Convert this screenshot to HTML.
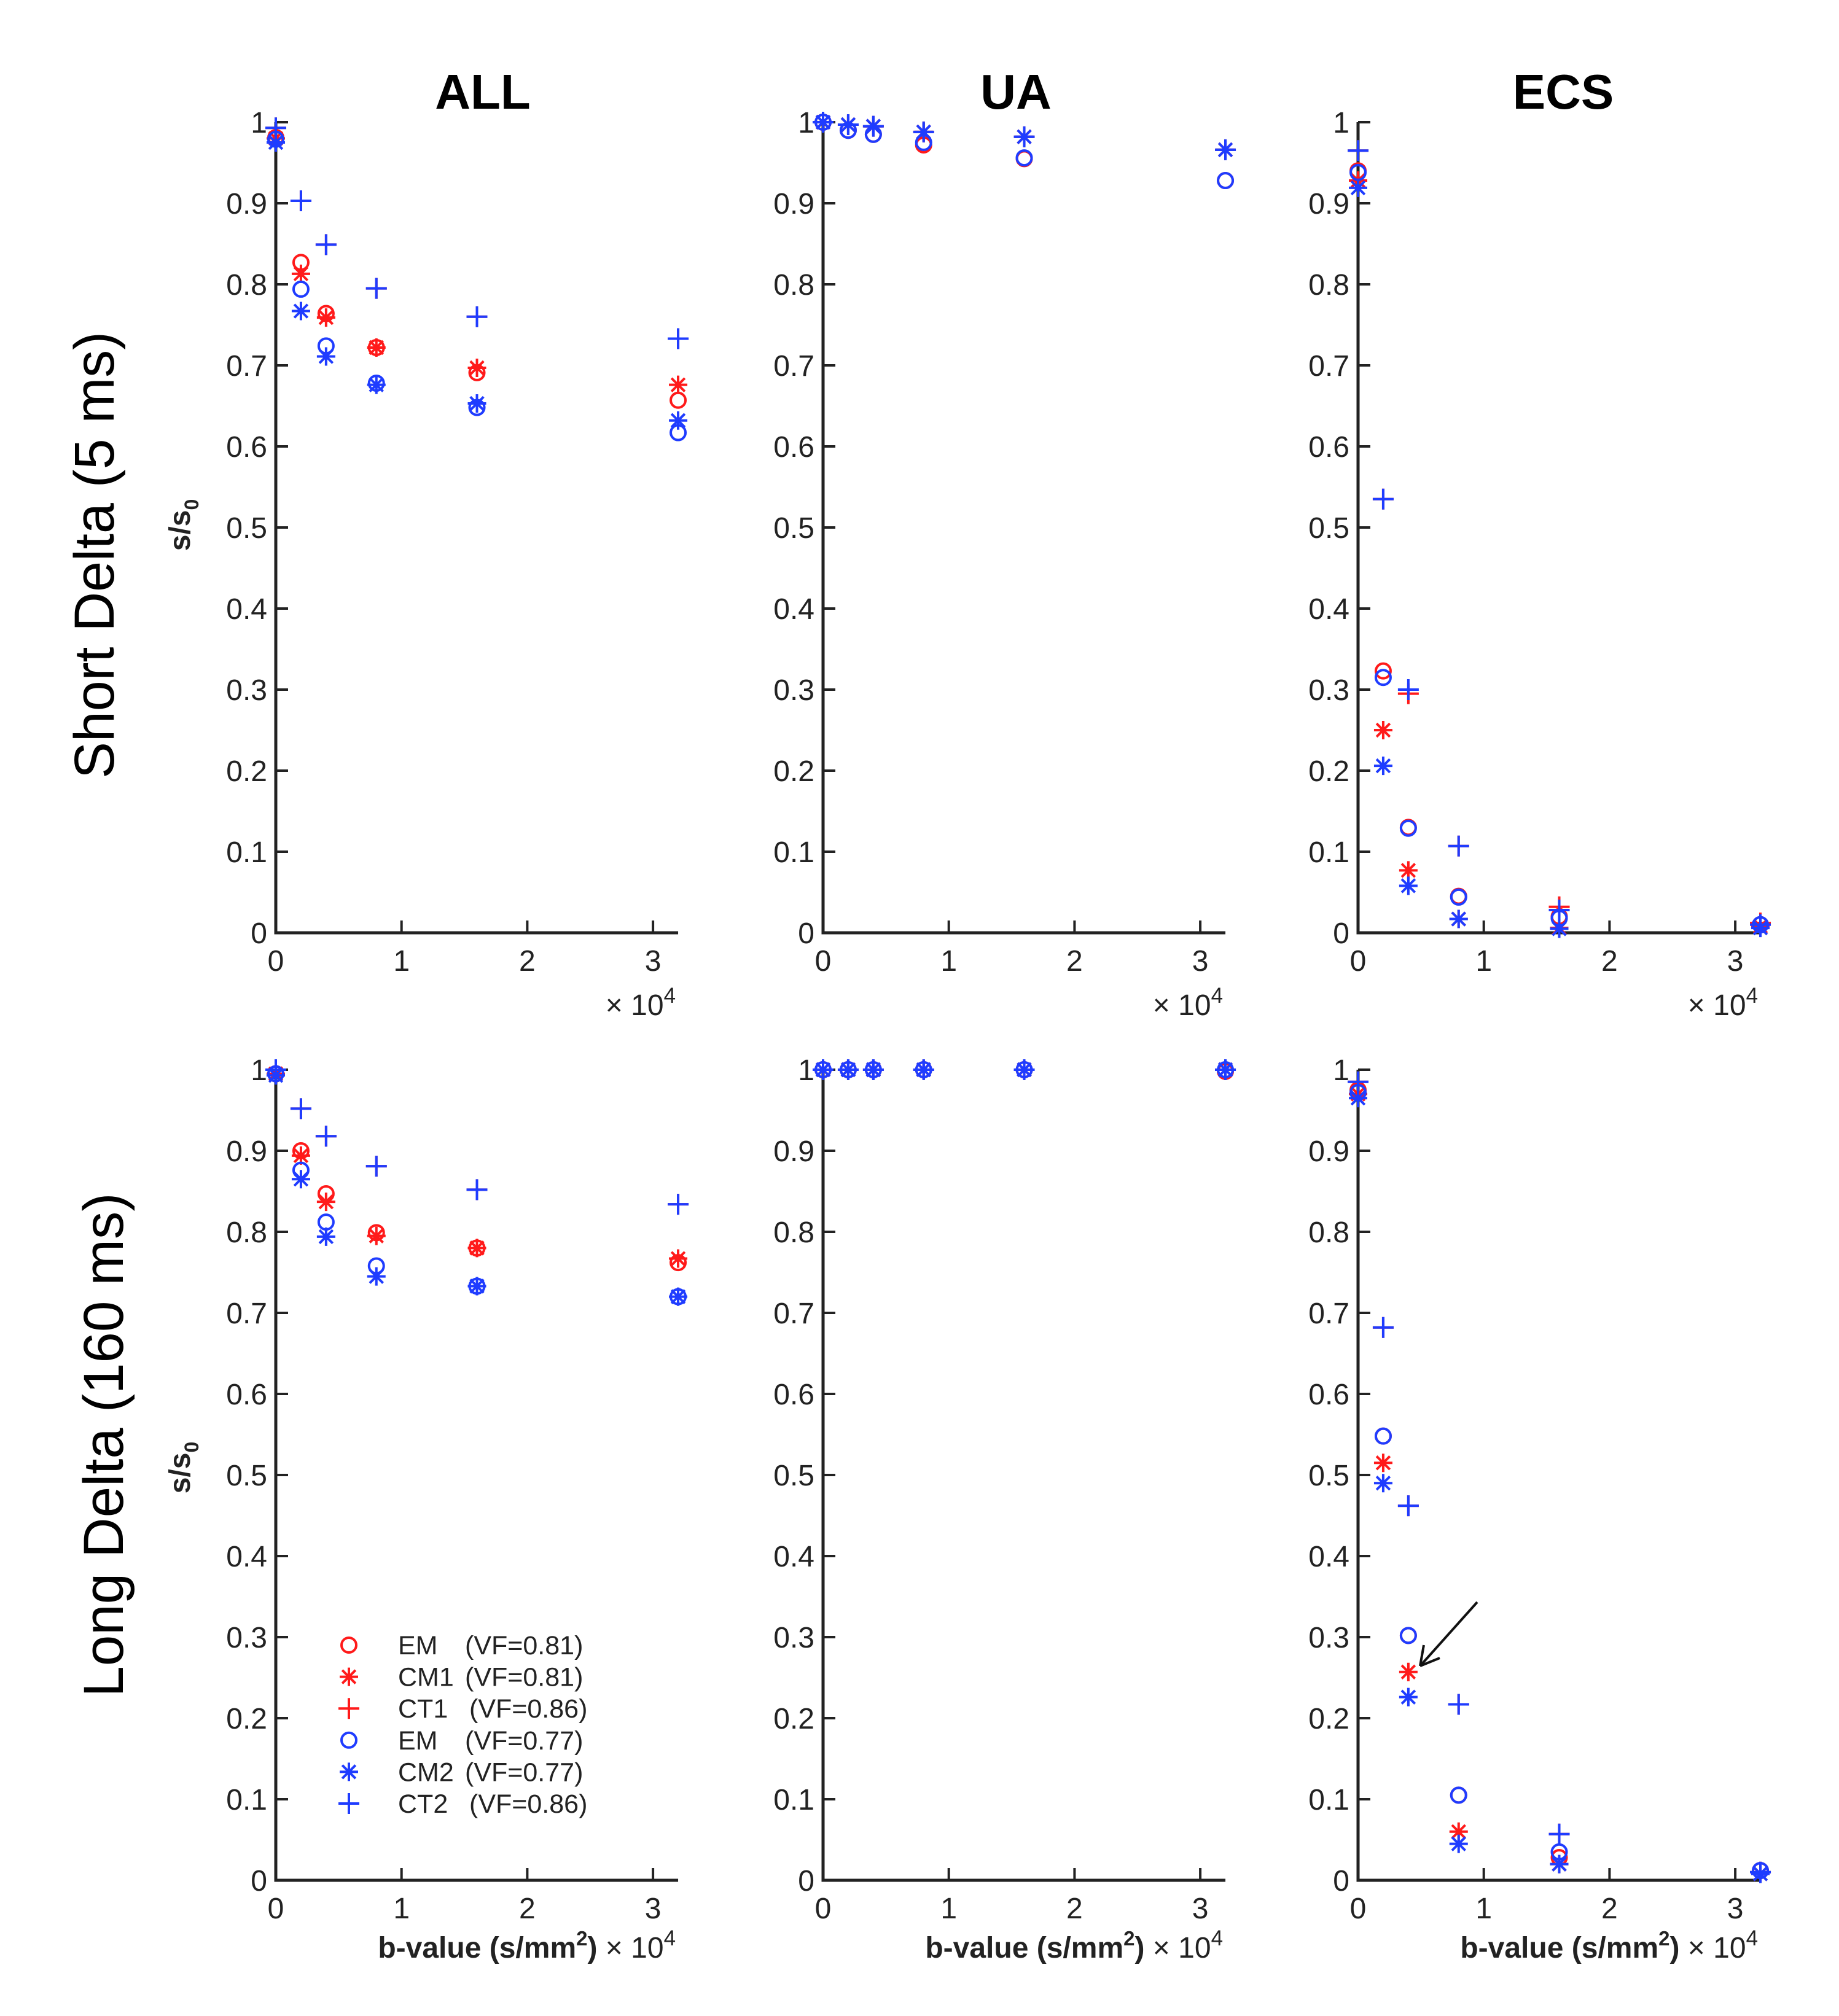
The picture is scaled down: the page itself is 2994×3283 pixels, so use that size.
<!DOCTYPE html>
<html><head><meta charset="utf-8"><style>
html,body{margin:0;padding:0;background:#fff;}
svg{display:block;font-family:"Liberation Sans",sans-serif;}
</style></head><body>
<svg id="chart" width="2994" height="3283" viewBox="0 0 2994 3283" xmlns="http://www.w3.org/2000/svg">
<g id="root"></g>
</svg>
<script>
const bValues = [0, 2000, 4000, 8000, 16000, 32000];
const seriesNames = ["EM-red","CM1","CT1","EM-blue","CM2","CT2"];
const seriesColors = ["#ff1a1a","#ff1a1a","#ff1a1a","#1f3cff","#1f3cff","#1f3cff"];
const seriesMarkers = ["o","*","+","o","*","+"];
const colTitles = ["ALL","UA","ECS"];
const yTicks = [0,0.1,0.2,0.3,0.4,0.5,0.6,0.7,0.8,0.9,1];
const yTickLabels = ["0","0.1","0.2","0.3","0.4","0.5","0.6","0.7","0.8","0.9","1"];
const xTicks = [0,10000,20000,30000];
const xTickLabels = ["0","1","2","3"];
const legendLabels = ["EM","CM1","CT1","EM","CM2","CT2"];
const legendVF = ["(VF=0.81)","(VF=0.81)","(VF=0.86)","(VF=0.77)","(VF=0.77)","(VF=0.86)"];
// Short delta, ALL
const sAllEM1 = [0.981,0.827,0.764,0.722,0.691,0.657];
const sAllCM1 = [0.980,0.813,0.759,0.722,0.697,0.676];
const sAllCT1 = [0.993,0.903,0.849,0.795,0.760,0.733];
const sAllEM2 = [0.979,0.794,0.724,0.678,0.648,0.617];
const sAllCM2 = [0.975,0.767,0.711,0.676,0.653,0.632];
const sAllCT2 = [0.993,0.903,0.849,0.795,0.760,0.733];
// Short delta, UA
const sUaEM1 = [1.0,0.990,0.985,0.972,0.955,0.928];
const sUaCM1 = [1.0,0.997,0.995,0.988,0.982,0.966];
const sUaCT1 = [1.0,0.997,0.995,0.988,0.982,0.966];
const sUaEM2 = [1.0,0.990,0.985,0.975,0.956,0.928];
const sUaCM2 = [1.0,0.997,0.995,0.988,0.982,0.966];
const sUaCT2 = [1.0,0.997,0.995,0.988,0.982,0.966];
// Short delta, ECS
const sEcsEM1 = [0.940,0.323,0.130,0.045,0.020,0.010];
const sEcsCM1 = [0.928,0.250,0.077,0.017,0.006,0.008];
const sEcsCT1 = [0.965,0.535,0.295,0.107,0.032,0.012];
const sEcsEM2 = [0.938,0.315,0.129,0.044,0.018,0.010];
const sEcsCM2 = [0.919,0.206,0.058,0.017,0.005,0.006];
const sEcsCT2 = [0.965,0.535,0.300,0.107,0.028,0.010];
// Long delta, ALL
const lAllEM1 = [0.995,0.900,0.847,0.799,0.780,0.762];
const lAllCM1 = [0.995,0.894,0.837,0.795,0.780,0.767];
const lAllCT1 = [1.0,0.952,0.918,0.881,0.852,0.834];
const lAllEM2 = [0.995,0.876,0.812,0.758,0.733,0.720];
const lAllCM2 = [0.993,0.865,0.794,0.745,0.733,0.720];
const lAllCT2 = [1.0,0.952,0.918,0.881,0.852,0.834];
// Long delta, UA
const lUaEM1 = [1.0,1.0,1.0,1.0,1.0,0.998];
const lUaCM1 = [1.0,1.0,1.0,1.0,1.0,1.0];
const lUaCT1 = [1.0,1.0,1.0,1.0,1.0,1.0];
const lUaEM2 = [1.0,1.0,1.0,1.0,1.0,1.0];
const lUaCM2 = [1.0,1.0,1.0,1.0,1.0,1.0];
const lUaCT2 = [1.0,1.0,1.0,1.0,1.0,1.0];
// Long delta, ECS
const lEcsEM1 = [0.975,0.548,0.302,0.105,0.028,0.012];
const lEcsCM1 = [0.970,0.515,0.257,0.060,0.020,0.008];
const lEcsCT1 = [0.985,0.682,0.462,0.217,0.057,0.010];
const lEcsEM2 = [0.972,0.548,0.302,0.105,0.035,0.012];
const lEcsCM2 = [0.965,0.490,0.226,0.045,0.020,0.008];
const lEcsCT2 = [0.985,0.682,0.462,0.217,0.057,0.010];

const panelData = [
  [[sAllEM1,sAllCM1,sAllCT1,sAllEM2,sAllCM2,sAllCT2],[sUaEM1,sUaCM1,sUaCT1,sUaEM2,sUaCM2,sUaCT2],[sEcsEM1,sEcsCM1,sEcsCT1,sEcsEM2,sEcsCM2,sEcsCT2]],
  [[lAllEM1,lAllCM1,lAllCT1,lAllEM2,lAllCM2,lAllCT2],[lUaEM1,lUaCM1,lUaCT1,lUaEM2,lUaCM2,lUaCT2],[lEcsEM1,lEcsCM1,lEcsCT1,lEcsEM2,lEcsCM2,lEcsCT2]]
];

const NS="http://www.w3.org/2000/svg";
const root=document.getElementById('root');
const colX0=[449,1340,2211];
const rowY0=[1519,3062];
const titleX=[786,1654,2545];
const yPx=1320, xPxPer=204.7/10000, xMax=32000;
function mk(tag,attrs,parent){const e=document.createElementNS(NS,tag);for(const k in attrs)e.setAttribute(k,attrs[k]);(parent||root).appendChild(e);return e;}
function txt(s,attrs,parent){const e=mk('text',attrs,parent);e.textContent=s;return e;}

function marker(g,type,cx,cy,color){
  const sw=4;
  if(type==='o'){mk('circle',{cx:cx,cy:cy,r:12,fill:'none',stroke:color,'stroke-width':sw},g);}
  else if(type==='+'){const s=17;
    mk('path',{d:`M${cx-s},${cy}H${cx+s}M${cx},${cy-s}V${cy+s}`,stroke:color,'stroke-width':sw,fill:'none'},g);}
  else {const s=15,d=s*0.72;
    mk('path',{d:`M${cx-s},${cy}H${cx+s}M${cx},${cy-s}V${cy+s}M${cx-d},${cy-d}L${cx+d},${cy+d}M${cx-d},${cy+d}L${cx+d},${cy-d}`,stroke:color,'stroke-width':sw,fill:'none'},g);}
}

for(let r=0;r<2;r++){
  for(let c=0;c<3;c++){
    const x0=colX0[c], y0=rowY0[r];
    const X=v=>x0+v*xPxPer, Y=v=>y0-v*yPx;
    const g=mk('g',{});
    
    
    const ax=mk('path',{d:`M${x0},${Y(1)}V${y0}H${X(xMax)}`,stroke:'#222',fill:'none','stroke-width':5},g);
    
    
    yTicks.forEach((t,i)=>{
      mk('path',{d:`M${x0},${Y(t)}h20`,stroke:'#222','stroke-width':4},g);
      const l=txt(yTickLabels[i],{x:x0-14,y:Y(t)+17,'text-anchor':'end','font-size':48,fill:'#222'},g);
      
      
    });
    xTicks.forEach((t,i)=>{
      if(t>0)mk('path',{d:`M${X(t)},${y0}v-20`,stroke:'#222','stroke-width':4},g);
      const l=txt(xTickLabels[i],{x:X(t),y:y0+62,'text-anchor':'middle','font-size':48,fill:'#222'},g);
      
      
    });
    if(r===0){
      const m=txt('',{x:X(xMax)-4,y:y0+134,'text-anchor':'end','font-size':48,fill:'#222'},g);
      m.innerHTML='× 10<tspan dy="-20" font-size="35">4</tspan>';
      
      
      const t=txt(colTitles[c],{x:titleX[c],y:177,'text-anchor':'middle','font-size':80,'font-weight':'bold',fill:'#000'},g);
      
      
    } else {
      const m=txt('',{x:X(xMax)-4,y:y0+126,'text-anchor':'end','font-size':48,fill:'#222'},g);
      m.innerHTML='<tspan font-weight="bold">b-value (s/mm<tspan dy="-20" font-size="33">2</tspan><tspan dy="20">)</tspan></tspan> × 10<tspan dy="-20" font-size="35">4</tspan>';
      
      
    }
    if(c===0){
      const yl=txt('',{transform:`translate(${x0-140},${r===0?855:2390}) rotate(-90)`,'text-anchor':'middle','font-size':48,'font-weight':'bold',fill:'#222'},g);
      yl.innerHTML='s/s<tspan dy="14" font-size="32">0</tspan>';
      
      
    }
    const data=panelData[r][c];
    const order=[0,1,2,3,4,5];
    order.forEach(si=>{
      const sg=mk('g',{},g);
      
      
      data[si].forEach((v,i)=>marker(sg,seriesMarkers[si],X(bValues[i]),Y(v),seriesColors[si]));
    });
  }
}
// row labels
const rl1=txt('Short Delta (5 ms)',{transform:'translate(185,904) rotate(-90)','text-anchor':'middle','font-size':92,fill:'#000',textLength:728,lengthAdjust:'spacingAndGlyphs'});


const rl2=txt('Long Delta (160 ms)',{transform:'translate(200,2353) rotate(-90)','text-anchor':'middle','font-size':92,fill:'#000',textLength:821,lengthAdjust:'spacingAndGlyphs'});


// legend
const lg=mk('g',{});


legendLabels.forEach((lab,i)=>{
  const cy=2679+i*51.6;
  const e=mk('g',{},lg);
  
  
  marker(e,seriesMarkers[i],568,cy,seriesColors[i]);
  txt(lab,{x:648,y:cy+15,'font-size':43,fill:'#222'},e);
  txt(legendVF[i],{x:(lab.startsWith('CT')?764:757),y:cy+15,'font-size':43,fill:'#222'},e);
});
// arrow
const ar=mk('g',{stroke:'#111','stroke-width':4,fill:'none'});


mk('path',{d:'M2405,2609L2312,2713'},ar);
mk('path',{d:'M2312,2713l6,-34M2312,2713l32,-13'},ar);
</script>
</body></html>
